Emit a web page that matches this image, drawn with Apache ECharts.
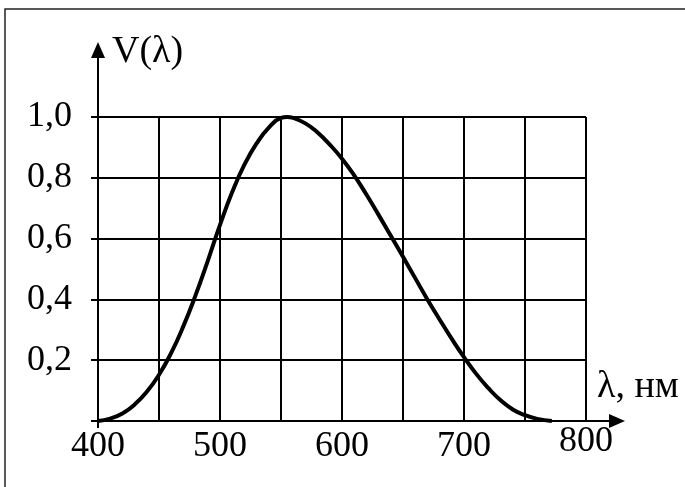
<!DOCTYPE html>
<html>
<head>
<meta charset="utf-8">
<title>V(λ)</title>
<script src="https://cdn.jsdelivr.net/npm/echarts@6/dist/echarts.min.js"></script>
<style>
  html, body { margin: 0; padding: 0; background: #fff; }
  #chart { width: 685px; height: 487px; }
</style>
</head>
<body>
<div id="chart"></div>
<script>
// relative luminous efficiency curve
var wavelength = [400, 410, 420, 430, 440, 450, 460, 470, 480, 490, 500, 510, 520, 530, 540, 550, 555,
  560, 570, 580, 590, 600, 610, 620, 630, 640, 650, 660, 670, 680, 690, 700, 710, 720, 730, 740, 750, 760, 772];
var efficiency = [0, 0.008, 0.025, 0.054, 0.096, 0.152, 0.224, 0.312, 0.414, 0.527, 0.645, 0.753, 0.843, 0.913, 0.965, 0.997, 1.0,
  0.997, 0.979, 0.949, 0.909, 0.863, 0.808, 0.745, 0.678, 0.609, 0.54, 0.47, 0.40, 0.334, 0.27, 0.21, 0.155, 0.108, 0.068, 0.038, 0.019, 0.007, 0];

var xTicks = [400, 500, 600, 700, 800];
var yTicks = [0.2, 0.4, 0.6, 0.8, 1.0];
var yTickMarks = [0, 0.2, 0.4, 0.6, 0.8, 1.0];

var FONT = '"Liberation Serif", "DejaVu Serif", serif';

// plot box (grid lines), and the longer axes with arrows
var box = { left: 98, right: 99, top: 117, bottom: 66 };
var arrowBox = { left: 98, right: 68, top: 50, bottom: 66 };
var W = 685, H = 487;
var pxPerX = (W - box.left - box.right) / 400;
var pxPerY = (H - box.top - box.bottom) / 1;
var xEnd = 400 + (W - arrowBox.left - arrowBox.right) / pxPerX;
var yEnd = (H - arrowBox.top - arrowBox.bottom) / pxPerY;

var chart = echarts.init(document.getElementById('chart'));

var seriesData = wavelength.map(function (w, i) { return [w, efficiency[i]]; });

var option = {
  animation: false,
  backgroundColor: '#fff',
  textStyle: { fontFamily: FONT, color: '#000' },
  grid: [
    Object.assign({ containLabel: false }, box),
    Object.assign({ containLabel: false }, arrowBox)
  ],
  xAxis: [
    {
      gridIndex: 0, type: 'value', min: 400, max: 800, interval: 50,
      axisLine: { show: false }, axisTick: { show: false }, axisLabel: { show: false },
      splitLine: { show: true, lineStyle: { color: '#000', width: 2 } }
    },
    {
      gridIndex: 1, type: 'value', min: 400, max: xEnd, interval: 100,
      axisLine: { show: true, symbol: ['none', 'triangle'], symbolSize: [14, 16],
        lineStyle: { color: '#000', width: 2 } },
      axisTick: { show: true, customValues: [400], length: 7, inside: false,
        lineStyle: { color: '#000', width: 2 } },
      axisLabel: {
        show: true, customValues: xTicks, margin: 8,
        fontFamily: FONT, fontSize: 36, color: '#000',
        formatter: function (v) { return v === 800 ? '{up|' + v + '}' : '{n|' + v + '}'; },
        rich: {
          n: { fontFamily: FONT, fontSize: 36, color: '#000' },
          up: { fontFamily: FONT, fontSize: 36, color: '#000', lineHeight: 26 }
        }
      },
      splitLine: { show: false },
      name: 'λ, нм', nameLocation: 'end', nameGap: -20,
      nameTextStyle: { fontFamily: FONT, fontSize: 38, color: '#000',
        align: 'left', verticalAlign: 'bottom', padding: [0, 0, 15, 0] }
    }
  ],
  yAxis: [
    {
      gridIndex: 0, type: 'value', min: 0, max: 1, interval: 0.2,
      axisLine: { show: false }, axisTick: { show: false }, axisLabel: { show: false },
      splitLine: { show: true, lineStyle: { color: '#000', width: 2 } }
    },
    {
      gridIndex: 1, type: 'value', min: 0, max: yEnd, interval: 0.2,
      axisLine: { show: true, symbol: ['none', 'triangle'], symbolSize: [14, 16],
        lineStyle: { color: '#000', width: 2 } },
      axisTick: { show: true, customValues: yTickMarks, length: 7, inside: false,
        lineStyle: { color: '#000', width: 2 } },
      axisLabel: {
        show: true, customValues: yTicks, margin: 26,
        fontFamily: FONT, fontSize: 36, color: '#000',
        formatter: function (v) { return v.toFixed(1).replace('.', ','); }
      },
      splitLine: { show: false },
      name: 'V(λ)', nameLocation: 'end', nameGap: -2,
      nameTextStyle: { fontFamily: FONT, fontSize: 38, color: '#000',
        align: 'left', verticalAlign: 'middle', padding: [0, 0, 0, 14] }
    }
  ],
  series: [
    {
      type: 'line',
      xAxisIndex: 0, yAxisIndex: 0,
      data: seriesData,
      smooth: true,
      showSymbol: false,
      lineStyle: { color: '#000', width: 4 },
      z: 5
    }
  ],
  graphic: [
    {
      type: 'rect', silent: true,
      shape: { x: 5, y: 9, width: 720, height: 520 },
      style: { fill: 'none', stroke: '#222', lineWidth: 1.5 }
    }
  ]
};

chart.setOption(option);
</script>
</body>
</html>
